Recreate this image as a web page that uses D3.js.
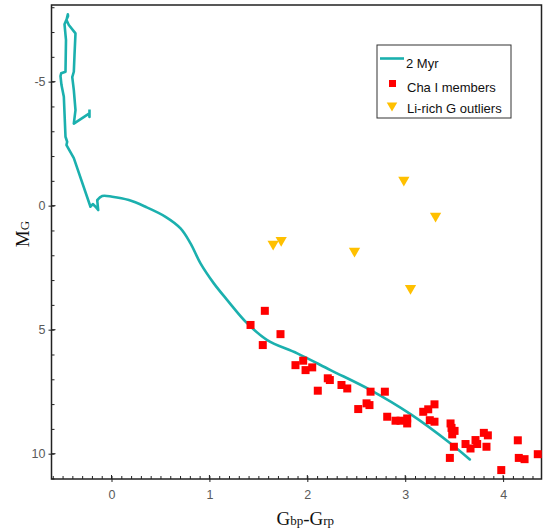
<!DOCTYPE html>
<html><head><meta charset="utf-8">
<script src="https://cdn.jsdelivr.net/npm/d3@7"></script>
<style>html,body{margin:0;padding:0;background:#fff;}svg{display:block;}</style>
</head><body>
<script>
// ---- data ----
const isoColor = [-0.225,-0.225,-0.230,-0.385,-0.368,-0.385,-0.401,-0.385,-0.378,-0.368,-0.436,-0.460,-0.446,-0.444,-0.480,-0.465,-0.470,-0.514,-0.521,-0.511,-0.487,-0.470,-0.453,-0.460,-0.385,-0.215,-0.191,-0.163,-0.136,-0.146,-0.095,0.007,0.177,0.347,0.552,0.705,0.807,0.909,1.045,1.182,1.386,1.590,1.897,2.237,2.646,3.054,3.463,3.660];
const isoMag   = [-3.875,-3.573,-3.714,-3.310,-3.855,-4.661,-5.185,-5.399,-6.073,-6.948,-7.282,-7.484,-7.714,-7.645,-7.310,-6.677,-5.399,-5.335,-5.226,-4.863,-4.391,-2.778,-2.577,-2.444,-1.919,0.044,-0.065,0.044,0.177,-0.226,-0.387,-0.359,-0.226,0.044,0.448,0.915,1.520,2.327,3.133,3.806,4.746,5.419,5.956,6.629,7.435,8.403,9.585,10.230];

const memColor = [1.566,1.420,1.726,1.545,1.879,1.958,1.982,2.050,2.209,2.230,2.107,2.349,2.408,2.646,2.792,2.520,2.605,2.635,2.816,2.901,2.952,3.020,3.020,3.184,3.235,3.299,3.251,3.299,3.463,3.473,3.504,3.480,3.497,3.456,3.616,3.667,3.718,3.735,3.803,3.844,3.830,3.981,4.150,4.160,4.219,4.354];
const memMag   = [4.24,4.81,5.18,5.62,6.43,6.25,6.63,6.52,6.96,7.03,7.46,7.23,7.37,7.50,7.50,8.20,7.97,8.04,8.51,8.67,8.67,8.58,8.78,8.31,8.21,8.01,8.65,8.71,8.78,8.96,9.08,9.22,9.72,10.17,9.61,9.79,9.45,9.61,9.16,9.26,9.72,10.66,9.46,10.17,10.22,10.02];

const outColor = [2.986,3.310,1.733,1.651,2.482,3.054];
const outMag   = [-1.03,0.42,1.39,1.55,1.83,3.33];

const xMajorTicks = [0,1,2,3,4];
const yMajorTicks = [-5,0,5,10];
const legendLabels = ["2 Myr","Cha I members","Li-rich G outliers"];

// ---- layout ----
const W = 553, H = 532;
const L = 51.5, R = 541.5, T = 5, B = 479;
const svg = d3.select("body").append("svg").attr("width",W).attr("height",H);
const x = d3.scaleLinear().domain([-0.613, 4.392]).range([L, R]);
const y = d3.scaleLinear().domain([-8.09, 11.02]).range([T, B]);

const teal = "#1bb0ae", red = "#ff0000", gold = "#ffc000";

// minor ticks (inward)
const xMinor = d3.range(-6, 44).map(d => d/10);
const yMinor = d3.range(-8, 12);
const gx = svg.append("g").attr("transform",`translate(0,${B})`);
gx.call(d3.axisBottom(x).tickValues(xMinor).tickSize(-3).tickFormat(""));
const gx2 = svg.append("g").attr("transform",`translate(0,${B})`);
gx2.call(d3.axisBottom(x).tickValues(xMajorTicks).tickSizeInner(3).tickSizeOuter(0).tickPadding(8).tickFormat(d3.format("d")));
const gy = svg.append("g").attr("transform",`translate(${L},0)`);
gy.call(d3.axisLeft(y).tickValues(yMinor).tickSize(-3).tickFormat(""));
const gy2 = svg.append("g").attr("transform",`translate(${L},0)`);
gy2.call(d3.axisLeft(y).tickValues(yMajorTicks).tickSizeInner(3).tickSizeOuter(0).tickPadding(3).tickFormat(d => d < 0 ? "-" + Math.abs(d) : d));
// major ticks inward extension
svg.append("g").selectAll("line").data(xMajorTicks).join("line")
  .attr("x1",d=>x(d)).attr("x2",d=>x(d)).attr("y1",B).attr("y2",B-4).attr("stroke","#222");
svg.append("g").selectAll("line").data(yMajorTicks).join("line")
  .attr("y1",d=>y(d)).attr("y2",d=>y(d)).attr("x1",L).attr("x2",L+4).attr("stroke","#222");
svg.selectAll(".domain").remove();
svg.selectAll(".tick line").attr("stroke","#222");
svg.selectAll(".tick text").attr("fill","#5a5a5a").style("font-family","'Liberation Sans', Arial, sans-serif").style("font-size","12.5px");

// frame
svg.append("rect").attr("x",L).attr("y",T).attr("width",R-L).attr("height",B-T)
  .attr("fill","none").attr("stroke","#222").attr("stroke-width",1.5);

// isochrone: upper (kinked) part straight, lower main sequence smoothed
const iso = isoColor.map((c,i)=>[c, isoMag[i]]);
const split = 29;
const lineLin = d3.line().x(d=>x(d[0])).y(d=>y(d[1])).curve(d3.curveLinear);
const lineSm = d3.line().x(d=>x(d[0])).y(d=>y(d[1])).curve(d3.curveCatmullRom.alpha(0.5));
svg.append("path").datum(iso.slice(0, split+1))
  .attr("d", lineLin).attr("fill","none").attr("stroke",teal).attr("stroke-width",2.6).attr("stroke-linejoin","round");
svg.append("path").datum(iso.slice(split))
  .attr("d", lineSm).attr("fill","none").attr("stroke",teal).attr("stroke-width",2.6).attr("stroke-linejoin","round").attr("stroke-linecap","round");

// members
const sq = 8;
svg.append("g").selectAll("rect").data(memColor.map((c,i)=>[c,memMag[i]])).join("rect")
  .attr("x",d=>x(d[0])-sq/2).attr("y",d=>y(d[1])-sq/2).attr("width",sq).attr("height",sq).attr("fill",red);

// outliers (downward triangles)
const tri = d3.symbol().type(d3.symbolTriangle).size(55);
svg.append("g").selectAll("path").data(outColor.map((c,i)=>[c,outMag[i]])).join("path")
  .attr("d",tri).attr("transform",d=>`translate(${x(d[0])},${y(d[1])}) rotate(180)`).attr("fill",gold);

// axis titles
const xt = svg.append("text").attr("x",(x(1)+x(3))/2 - 2).attr("y",525).attr("text-anchor","middle")
  .style("font-family","'Liberation Serif', 'Times New Roman', serif").attr("fill","#111");
xt.append("tspan").style("font-size","19px").text("G");
xt.append("tspan").style("font-size","13px").text("bp");
xt.append("tspan").style("font-size","19px").text("-G");
xt.append("tspan").style("font-size","13px").text("rp");

const yt = svg.append("text").attr("transform","translate(29,234) rotate(-90)").attr("text-anchor","middle")
  .style("font-family","'Liberation Serif', 'Times New Roman', serif").attr("fill","#111");
yt.append("tspan").style("font-size","19px").text("M");
yt.append("tspan").style("font-size","13px").text("G");

// legend
const lg = svg.append("g");
lg.append("rect").attr("x",377).attr("y",45).attr("width",134).attr("height",73)
  .attr("fill","#fff").attr("stroke","#333").attr("stroke-width",1);
lg.append("line").attr("x1",380).attr("x2",404).attr("y1",58.5).attr("y2",58.5).attr("stroke",teal).attr("stroke-width",2.6);
lg.append("rect").attr("x",389).attr("y",80).attr("width",7).attr("height",7).attr("fill",red);
lg.append("path").attr("d",d3.symbol().type(d3.symbolTriangle).size(48)).attr("transform","translate(392,105.5) rotate(180)").attr("fill",gold);
const ly = [68.3, 91.7, 113.3];
lg.selectAll("text.l").data(legendLabels).join("text").attr("class","l")
  .attr("x",(d,i)=> i===0 ? 406 : 407).attr("y",(d,i)=>ly[i]).text(d=>d)
  .style("font-family","'Liberation Sans', Arial, sans-serif").style("font-size","13px").attr("fill","#111");
</script>
</body></html>
